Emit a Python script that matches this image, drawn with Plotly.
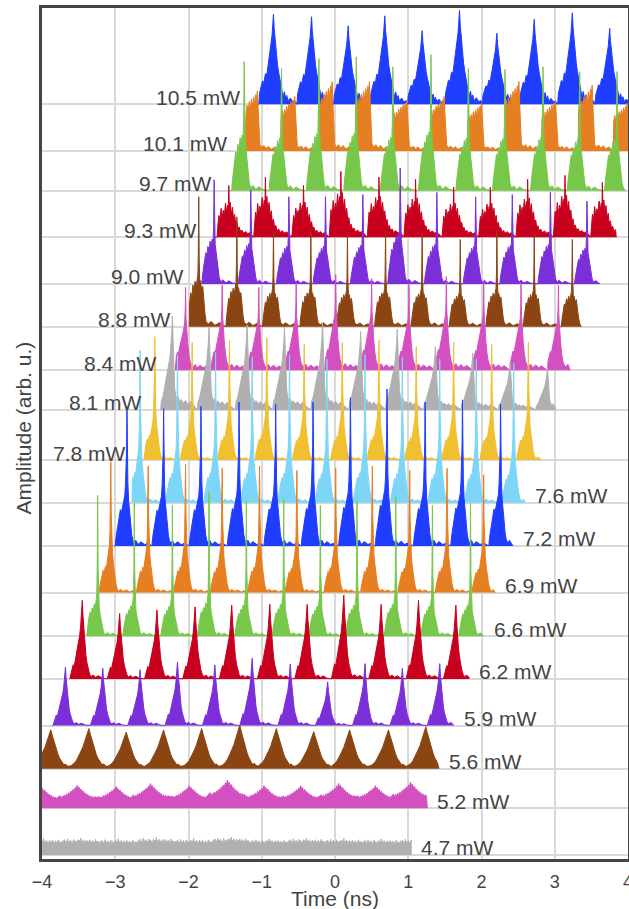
import plotly.graph_objects as go

# ---------------- data ----------------
POWERS = ["10.5", "10.1", "9.7", "9.3", "9.0", "8.8", "8.4", "8.1", "7.8",
          "7.6", "7.2", "6.9", "6.6", "6.2", "5.9", "5.6", "5.2", "4.7"]
# vertical offset (arb. u.) of each trace baseline
OFFSETS = [17.22, 16.15, 15.24, 14.17, 13.10, 12.12, 11.12, 10.21, 9.06,
           8.08, 7.09, 6.02, 5.02, 4.04, 2.97, 1.98, 1.07, 0.0]
# first / last time sample of each trace (ns)
T_START = [-1.05, -1.23, -1.44, -1.64, -1.82, -1.99, -2.18, -2.39, -2.61,
           -2.77, -3.02, -3.23, -3.39, -3.62, -3.86, -4.10, -4.10, -4.10]
T_END = [4.30, 4.30, 3.97, 3.84, 3.62, 3.36, 3.21, 3.02, 2.82,
         2.60, 2.43, 2.19, 2.03, 1.83, 1.62, 1.42, 1.26, 1.04]

# pulse peak times (ns) and peak amplitudes (arb. u.) of each trace
T_105 = [-0.84, -0.32, 0.18, 0.68, 1.19, 1.70, 2.21, 2.72, 3.24, 3.75]
H_105 = [2.07, 2.01, 1.80, 2.03, 1.69, 2.16, 1.63, 1.95, 2.10, 1.74]
T_101 = [-1.06, -0.55, -0.04, 0.47, 0.98, 1.49, 2.00, 2.51, 3.01, 3.51, 3.99]
H_101 = [1.38, 1.25, 1.59, 1.59, 1.17, 1.25, 1.10, 1.59, 1.17, 1.51, 1.10]
T_97 = [-1.24, -0.73, -0.22, 0.29, 0.79, 1.31, 1.82, 2.32, 2.84, 3.34, 3.85]
H_97 = [2.96, 2.80, 3.03, 3.07, 2.84, 3.12, 2.80, 2.78, 2.84, 2.73, 2.73]
T_93 = [-1.45, -0.95, -0.43, 0.08, 0.60, 1.10, 1.62, 2.12, 2.63, 3.14, 3.65]
H_93 = [1.19, 1.38, 1.19, 1.51, 1.38, 1.33, 1.15, 1.15, 1.33, 1.42, 1.26]
T_90 = [-1.65, -1.15, -0.63, -0.13, 0.38, 0.89, 1.39, 1.92, 2.42, 2.94, 3.44]
H_90 = [2.39, 2.15, 2.00, 2.00, 2.05, 2.66, 2.10, 2.00, 2.05, 2.10, 1.90]
T_88 = [-1.86, -1.34, -0.84, -0.33, 0.17, 0.69, 1.19, 1.71, 2.21, 2.72, 3.24]
H_88 = [2.98, 2.52, 2.18, 2.20, 2.10, 2.20, 2.15, 2.00, 2.20, 2.10, 2.00]
T_84 = [-2.04, -1.54, -1.04, -0.53, 0.01, 0.50, 1.01, 1.52, 2.03, 2.54, 3.05]
H_84 = [1.90, 1.95, 1.90, 2.00, 2.20, 2.10, 2.00, 2.15, 2.05, 2.00, 1.95]
T_81 = [-2.22, -1.72, -1.20, -0.69, -0.17, 0.35, 0.85, 1.37, 1.88, 2.39, 2.90]
H_81 = [2.15, 1.90, 1.95, 1.90, 2.00, 1.80, 1.85, 1.45, 1.30, 1.10, 0.98]
T_78 = [-2.46, -1.95, -1.44, -0.93, -0.42, 0.10, 0.60, 1.11, 1.62, 2.14, 2.64]
H_78 = [2.83, 2.70, 2.75, 2.80, 2.65, 2.70, 2.75, 2.60, 2.70, 2.65, 2.70]
T_76 = [-2.66, -2.15, -1.63, -1.13, -0.62, -0.11, 0.41, 0.92, 1.43, 1.93, 2.44]
H_76 = [3.50, 3.40, 3.45, 3.35, 3.40, 3.30, 3.40, 3.35, 3.30, 3.30, 3.20]
T_72 = [-2.84, -2.34, -1.83, -1.31, -0.81, -0.30, 0.21, 0.71, 1.23, 1.74, 2.26]
H_72 = [3.20, 3.15, 3.20, 3.30, 3.25, 3.30, 3.40, 3.60, 3.30, 3.35, 3.25]
T_69 = [-3.06, -2.55, -2.04, -1.54, -1.03, -0.52, 0.01, 0.51, 1.02, 1.53, 2.03]
H_69 = [3.00, 2.90, 2.95, 2.85, 2.90, 2.80, 2.85, 2.90, 2.80, 2.85, 2.70]
T_66 = [-3.24, -2.74, -2.22, -1.72, -1.21, -0.70, -0.20, 0.30, 0.83, 1.33, 1.85]
H_66 = [3.23, 3.05, 3.00, 3.30, 3.10, 3.15, 3.00, 3.10, 3.20, 3.00, 3.05]
T_62 = [-3.45, -2.94, -2.43, -1.91, -1.41, -0.89, -0.38, 0.12, 0.63, 1.14, 1.65]
H_62 = [1.80, 1.50, 1.58, 1.65, 1.69, 1.71, 1.71, 1.92, 1.71, 1.80, 1.69]
T_59 = [-3.68, -3.17, -2.66, -2.15, -1.64, -1.13, -0.61, -0.10, 0.41, 0.92, 1.43]
H_59 = [1.34, 1.31, 1.28, 1.46, 1.39, 1.54, 1.41, 1.00, 1.42, 1.31, 1.42]
T_56 = [-3.88, -3.36, -2.85, -2.34, -1.82, -1.30, -0.80, -0.29, 0.20, 0.73, 1.24]
H_56 = [0.89, 0.92, 0.84, 0.89, 0.92, 1.00, 0.92, 0.85, 0.89, 0.89, 0.96]
T_52 = [-4.02, -3.52, -2.99, -2.52, -1.99, -1.47, -0.97, -0.47, 0.05, 0.55, 1.03]
H_52 = [0.50, 0.53, 0.50, 0.57, 0.52, 0.65, 0.52, 0.52, 0.57, 0.52, 0.60]
T_47 = [-3.98, -3.47, -2.96, -2.44, -1.93, -1.42, -0.90, -0.39, 0.12, 0.63, 1.14]
H_47 = [0.38, 0.39, 0.37, 0.40, 0.38, 0.41, 0.37, 0.39, 0.38, 0.37, 0.38]

PEAK_T = [T_105, T_101, T_97, T_93, T_90, T_88, T_84, T_81, T_78,
          T_76, T_72, T_69, T_66, T_62, T_59, T_56, T_52, T_47]
PEAK_H = [H_105, H_101, H_97, H_93, H_90, H_88, H_84, H_81, H_78,
          H_76, H_72, H_69, H_66, H_62, H_59, H_56, H_52, H_47]

# ---------------- single-pulse shapes (dt in ns, relative amplitude) ----------------
SHAPES = {
    "broad_peak": [(-0.20, 0.0), (-0.19, 0.12), (-0.17, 0.18), (-0.15, 0.26), (-0.13, 0.24),
                   (-0.11, 0.34), (-0.09, 0.33), (-0.07, 0.46), (-0.05, 0.55), (-0.035, 0.66),
                   (-0.02, 0.76), (-0.01, 0.88), (0.0, 1.0), (0.01, 0.84), (0.025, 0.68),
                   (0.04, 0.55), (0.055, 0.44), (0.07, 0.36), (0.09, 0.26), (0.11, 0.16),
                   (0.13, 0.09), (0.15, 0.14), (0.165, 0.06), (0.18, 0.10), (0.20, 0.04),
                   (0.23, 0.07), (0.26, 0.03), (0.29, 0.04)],
    "block": [(-0.19, 0.0), (-0.185, 0.62), (-0.17, 0.74), (-0.155, 0.60), (-0.14, 0.76),
              (-0.125, 0.66), (-0.11, 0.82), (-0.095, 0.70), (-0.08, 0.86), (-0.065, 0.74),
              (-0.05, 0.90), (-0.035, 0.78), (-0.02, 0.94), (-0.01, 0.82), (0.0, 1.0),
              (0.01, 0.72), (0.022, 0.25), (0.035, 0.10), (0.06, 0.06), (0.09, 0.09),
              (0.12, 0.04), (0.15, 0.08), (0.19, 0.03), (0.23, 0.06), (0.27, 0.02)],
    "hump_spike_hi": [(-0.17, 0.0), (-0.16, 0.08), (-0.145, 0.16), (-0.13, 0.22), (-0.115, 0.30),
                      (-0.10, 0.27), (-0.085, 0.36), (-0.07, 0.32), (-0.055, 0.41), (-0.04, 0.35),
                      (-0.028, 0.43), (-0.014, 0.40), (-0.007, 0.56), (0.0, 1.0), (0.007, 0.52),
                      (0.014, 0.38), (0.025, 0.32), (0.04, 0.22), (0.055, 0.13), (0.07, 0.06),
                      (0.09, 0.02), (0.12, 0.04), (0.16, 0.01), (0.20, 0.03), (0.25, 0.01)],
    "jagged": [(-0.16, 0.0), (-0.15, 0.22), (-0.135, 0.42), (-0.12, 0.32), (-0.105, 0.56),
               (-0.09, 0.38), (-0.075, 0.52), (-0.06, 0.42), (-0.045, 0.66), (-0.03, 0.48),
               (-0.015, 0.62), (-0.006, 0.52), (0.0, 1.0), (0.008, 0.52), (0.02, 0.68),
               (0.035, 0.44), (0.05, 0.58), (0.065, 0.34), (0.08, 0.44), (0.095, 0.24),
               (0.11, 0.30), (0.125, 0.16), (0.14, 0.20), (0.16, 0.11), (0.18, 0.14),
               (0.20, 0.08), (0.23, 0.11), (0.26, 0.07), (0.29, 0.09)],
    "hump_spike_mid": [(-0.15, 0.0), (-0.14, 0.09), (-0.125, 0.18), (-0.11, 0.26), (-0.095, 0.23),
                       (-0.08, 0.32), (-0.065, 0.28), (-0.05, 0.35), (-0.035, 0.30), (-0.02, 0.37),
                       (-0.012, 0.40), (-0.006, 0.55), (0.0, 1.0), (0.006, 0.52), (0.013, 0.36),
                       (0.025, 0.35), (0.04, 0.28), (0.055, 0.31), (0.07, 0.19), (0.085, 0.10),
                       (0.10, 0.04), (0.13, 0.02), (0.17, 0.04), (0.22, 0.01), (0.28, 0.03)],
    "body_spike": [(-0.15, 0.0), (-0.14, 0.11), (-0.125, 0.18), (-0.11, 0.22), (-0.095, 0.21),
                   (-0.08, 0.28), (-0.065, 0.33), (-0.05, 0.39), (-0.035, 0.45), (-0.022, 0.51),
                   (-0.012, 0.58), (-0.005, 0.72), (0.0, 1.0), (0.006, 0.64), (0.015, 0.48),
                   (0.03, 0.32), (0.045, 0.19), (0.06, 0.11), (0.08, 0.06), (0.10, 0.04),
                   (0.13, 0.07), (0.16, 0.03), (0.20, 0.06), (0.24, 0.03), (0.28, 0.05)],
    "ramp": [(-0.16, 0.0), (-0.15, 0.10), (-0.13, 0.14), (-0.115, 0.20), (-0.10, 0.26),
             (-0.085, 0.32), (-0.07, 0.38), (-0.055, 0.45), (-0.04, 0.53), (-0.028, 0.61),
             (-0.016, 0.72), (-0.007, 0.84), (0.0, 1.0), (0.008, 0.74), (0.018, 0.42),
             (0.03, 0.24), (0.045, 0.15), (0.06, 0.11), (0.08, 0.14), (0.10, 0.08),
             (0.12, 0.11), (0.15, 0.07), (0.18, 0.10), (0.21, 0.06), (0.25, 0.09), (0.29, 0.05)],
    "hump_spike_lo": [(-0.16, 0.0), (-0.15, 0.05), (-0.135, 0.09), (-0.12, 0.13), (-0.105, 0.17),
                      (-0.09, 0.15), (-0.075, 0.20), (-0.06, 0.19), (-0.045, 0.25), (-0.03, 0.29),
                      (-0.02, 0.36), (-0.012, 0.46), (-0.005, 0.66), (0.0, 1.0), (0.005, 0.62),
                      (0.012, 0.42), (0.022, 0.30), (0.035, 0.22), (0.05, 0.14), (0.065, 0.08),
                      (0.08, 0.04), (0.10, 0.01), (0.13, 0.025), (0.17, 0.01), (0.21, 0.02),
                      (0.26, 0.005), (0.30, 0.015)],
    "hump_spike_thin": [(-0.16, 0.0), (-0.15, 0.05), (-0.135, 0.09), (-0.12, 0.13), (-0.105, 0.17),
                        (-0.09, 0.15), (-0.075, 0.20), (-0.06, 0.18), (-0.045, 0.23), (-0.03, 0.21),
                        (-0.02, 0.26), (-0.012, 0.30), (-0.006, 0.50), (0.0, 1.0), (0.006, 0.48),
                        (0.012, 0.28), (0.022, 0.20), (0.035, 0.15), (0.05, 0.10), (0.065, 0.06),
                        (0.08, 0.03), (0.10, 0.01), (0.13, 0.025), (0.17, 0.01), (0.21, 0.02),
                        (0.26, 0.005), (0.30, 0.015)],
    "shoulder_spike": [(-0.16, 0.0), (-0.15, 0.06), (-0.135, 0.11), (-0.12, 0.16), (-0.105, 0.21),
                       (-0.09, 0.26), (-0.075, 0.24), (-0.06, 0.28), (-0.045, 0.30), (-0.03, 0.36),
                       (-0.02, 0.44), (-0.012, 0.54), (-0.005, 0.70), (0.0, 1.0), (0.005, 0.66),
                       (0.012, 0.46), (0.022, 0.33), (0.035, 0.24), (0.05, 0.15), (0.065, 0.08),
                       (0.08, 0.04), (0.10, 0.02), (0.12, 0.04), (0.15, 0.01), (0.19, 0.03),
                       (0.24, 0.01), (0.29, 0.02)],
    "triangle": [(-0.17, 0.0), (-0.155, 0.06), (-0.14, 0.12), (-0.125, 0.18), (-0.11, 0.16),
                 (-0.095, 0.24), (-0.08, 0.30), (-0.065, 0.36), (-0.05, 0.45), (-0.035, 0.56),
                 (-0.022, 0.68), (-0.01, 0.84), (0.0, 1.0), (0.01, 0.80), (0.022, 0.60),
                 (0.035, 0.42), (0.05, 0.30), (0.065, 0.20), (0.08, 0.12), (0.10, 0.06),
                 (0.12, 0.03), (0.15, 0.05), (0.18, 0.02), (0.22, 0.04), (0.27, 0.01)],
    "wide_triangle": [(-0.24, 0.08), (-0.21, 0.12), (-0.18, 0.18), (-0.155, 0.26), (-0.13, 0.34),
                      (-0.105, 0.45), (-0.08, 0.55), (-0.06, 0.66), (-0.04, 0.76), (-0.02, 0.88),
                      (0.0, 1.0), (0.02, 0.86), (0.04, 0.72), (0.06, 0.58), (0.08, 0.46),
                      (0.10, 0.36), (0.12, 0.27), (0.14, 0.20), (0.16, 0.14), (0.18, 0.10),
                      (0.20, 0.12), (0.22, 0.08), (0.245, 0.06)],
    "wave": [(-0.25, 0.50), (-0.235, 0.55), (-0.22, 0.45), (-0.205, 0.52), (-0.19, 0.48),
             (-0.175, 0.58), (-0.16, 0.50), (-0.145, 0.62), (-0.13, 0.56), (-0.115, 0.68),
             (-0.10, 0.60), (-0.085, 0.75), (-0.07, 0.70), (-0.055, 0.82), (-0.04, 0.76),
             (-0.025, 0.90), (-0.012, 0.84), (0.0, 1.0), (0.012, 0.86), (0.025, 0.92),
             (0.04, 0.78), (0.055, 0.84), (0.07, 0.70), (0.085, 0.74), (0.10, 0.62),
             (0.115, 0.66), (0.13, 0.55), (0.145, 0.60), (0.16, 0.50), (0.175, 0.54),
             (0.19, 0.46), (0.205, 0.52), (0.22, 0.45), (0.235, 0.50)],
    "noise": [(-0.25, 0.70), (-0.24, 0.85), (-0.23, 0.65), (-0.22, 0.90), (-0.21, 0.70),
              (-0.20, 0.80), (-0.19, 0.60), (-0.18, 0.95), (-0.17, 0.72), (-0.16, 0.82),
              (-0.15, 0.66), (-0.14, 0.88), (-0.13, 0.70), (-0.12, 0.78), (-0.11, 0.62),
              (-0.10, 0.92), (-0.09, 0.70), (-0.08, 0.84), (-0.07, 0.68), (-0.06, 0.80),
              (-0.05, 0.64), (-0.04, 0.90), (-0.03, 0.74), (-0.02, 0.86), (-0.01, 0.70),
              (0.0, 1.0), (0.01, 0.72), (0.02, 0.84), (0.03, 0.66), (0.04, 0.90),
              (0.05, 0.70), (0.06, 0.80), (0.07, 0.62), (0.08, 0.88), (0.09, 0.70),
              (0.10, 0.82), (0.11, 0.64), (0.12, 0.90), (0.13, 0.68), (0.14, 0.80),
              (0.15, 0.60), (0.16, 0.86), (0.17, 0.70), (0.18, 0.78), (0.19, 0.62),
              (0.20, 0.92), (0.21, 0.68), (0.22, 0.82), (0.23, 0.66), (0.24, 0.80)],
}
SHAPE_OF = ["broad_peak", "block", "hump_spike_hi", "jagged", "hump_spike_hi",
            "hump_spike_mid", "body_spike", "ramp", "hump_spike_lo", "hump_spike_lo",
            "shoulder_spike", "hump_spike_lo", "hump_spike_thin", "triangle", "triangle",
            "wide_triangle", "wave", "noise"]

COLORS = ["#1f3dff", "#e67e22", "#77c84a", "#c8001e", "#7b2fd9",
          "#8b4513", "#d450c0", "#b0b0b0", "#f0c030", "#7dd6f8"]

FONT = "Liberation Sans, Arial, sans-serif"
TXT = "#444444"


def pulse_train(t0, t1, peaks, heights, shape):
    pts = []
    for tp, h in zip(peaks, heights):
        for dt, a in shape:
            x = tp + dt
            if t0 < x < t1:
                pts.append((x, h * a))
    pts.sort(key=lambda p: p[0])
    xs = [t0] + [p[0] for p in pts] + [t1]
    ys = [0.0] + [p[1] for p in pts] + [0.0]
    return xs, ys


fig = go.Figure()
annotations = []
for i, pw in enumerate(POWERS):
    xs, ys = pulse_train(T_START[i], T_END[i], PEAK_T[i], PEAK_H[i], SHAPES[SHAPE_OF[i]])
    col = COLORS[i % len(COLORS)]
    off = OFFSETS[i]
    fig.add_trace(go.Scatter(
        x=xs, y=[v + off for v in ys], mode="lines", fill="toself",
        fillcolor=col, line=dict(color=col, width=1.0),
        hoverinfo="skip", showlegend=False))
    left = i < 9
    annotations.append(dict(
        x=T_START[i] if left else T_END[i], y=off, xref="x", yref="y",
        text=f"{pw} mW", showarrow=False,
        xanchor="right" if left else "left", yanchor="middle",
        xshift=-16 if left else 8, yshift=7,
        font=dict(family=FONT, size=21, color=TXT)))

# axis titles
annotations.append(dict(x=0.5, y=0, xref="paper", yref="paper", text="Time (ns)",
                        showarrow=False, xanchor="center", yanchor="middle", yshift=-39,
                        font=dict(family=FONT, size=21, color=TXT)))
annotations.append(dict(x=0, y=0.5, xref="paper", yref="paper", text="Amplitude (arb. u.)",
                        showarrow=False, xanchor="center", yanchor="middle", textangle=-90,
                        xshift=-19, yshift=5, font=dict(family=FONT, size=21, color=TXT)))

grid = "#d9d9d9"
fig.update_layout(
    width=629, height=909,
    margin=dict(l=42, r=1, t=8, b=50),
    paper_bgcolor="white", plot_bgcolor="white",
    font=dict(family=FONT, color=TXT),
    annotations=annotations,
    xaxis=dict(range=[-4, 4], tickvals=[-4, -3, -2, -1, 0, 1, 2, 3, 4],
               showgrid=True, gridcolor=grid, gridwidth=2, zeroline=False,
               showline=True, mirror=True, linecolor="#444444", linewidth=3,
               ticks="outside", ticklen=4, tickcolor="rgba(0,0,0,0)",
               ticklabeloverflow="allow",
               tickfont=dict(size=18, color=TXT), automargin=False),
    yaxis=dict(range=[-0.092, 19.43], tickvals=OFFSETS, showticklabels=False,
               showgrid=True, gridcolor=grid, gridwidth=2, zeroline=False,
               showline=True, mirror=True, linecolor="#444444", linewidth=3,
               ticks="", automargin=False),
)

# remove the default page margin so the 629x909 figure fills the window exactly
fig.write_html("out.html",
               config={"displayModeBar": False},
               post_script="document.body.style.margin='0';"
                           "document.body.style.overflow='hidden';")
